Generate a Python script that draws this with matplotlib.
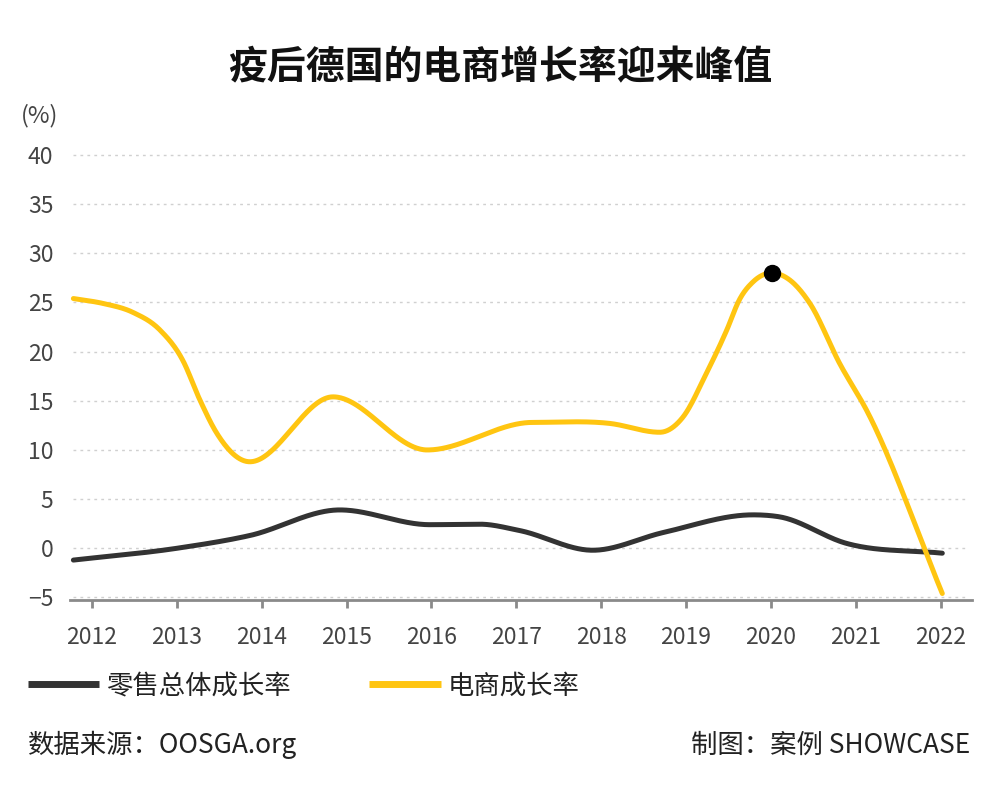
import numpy as np
import matplotlib
matplotlib.use("Agg")
import matplotlib.pyplot as plt

plt.rcParams['font.family'] = ['Noto Sans CJK SC', 'DejaVu Sans']

title = "疫后德国的电商增长率迎来峰值"
years = [2012, 2013, 2014, 2015, 2016, 2017, 2018, 2019, 2020, 2021, 2022]
yticks = [-5, 0, 5, 10, 15, 20, 25, 30, 35, 40]

# points (x in years, y in %)
retail_x = [2011.78, 2013.0, 2013.86, 2014.92, 2015.98, 2016.57, 2017.04, 2017.90, 2018.73, 2019.79, 2020.10, 2020.89, 2022.02]
retail_y = [-1.2, 0.0, 1.3, 3.9, 2.4, 2.45, 1.8, -0.2, 1.6, 3.4, 3.2, 0.5, -0.5]
ecom_x = [2011.78, 2012.13, 2012.48, 2012.80, 2013.07, 2013.27, 2013.47, 2013.86, 2014.84, 2015.95,
          2017.19, 2018.10, 2018.69, 2018.96, 2019.24, 2019.48, 2019.63, 2019.79, 2020.01, 2020.22,
          2020.46, 2020.81, 2021.13, 2022.02]
ecom_y = [25.4, 24.9, 24.0, 22.2, 19.1, 15.1, 11.7, 8.8, 15.4, 10.0,
          12.8, 12.7, 11.8, 13.3, 17.8, 22.2, 25.3, 27.1, 28.0, 27.3,
          24.9, 18.8, 14.0, -4.6]
peak_x, peak_y = 2020.01, 28.0

yellow = "#FFC511"
dark = "#333333"


def smooth(x, y, n=800):
    # cubic hermite through the points, flat at turning points
    x = np.asarray(x, float)
    y = np.asarray(y, float)
    h = np.diff(x)
    d = np.diff(y) / h
    m = np.zeros(len(x))
    m[0], m[-1] = d[0], d[-1]
    for k in range(1, len(x) - 1):
        if d[k - 1] * d[k] > 0:
            m[k] = (d[k - 1] * h[k] + d[k] * h[k - 1]) / (h[k - 1] + h[k])
    xn = np.linspace(x[0], x[-1], n)
    i = np.clip(np.searchsorted(x, xn) - 1, 0, len(x) - 2)
    t = (xn - x[i]) / h[i]
    h00 = 2 * t**3 - 3 * t**2 + 1
    h10 = t**3 - 2 * t**2 + t
    h01 = -2 * t**3 + 3 * t**2
    h11 = t**3 - t**2
    yn = h00 * y[i] + h10 * h[i] * m[i] + h01 * y[i + 1] + h11 * h[i] * m[i + 1]
    return xn, yn


fig = plt.figure(figsize=(10, 8.02), dpi=100)
ax = fig.add_axes([0.070, 0.252, 0.902, 0.567])

for v in yticks:
    ax.axhline(v, color="#d0d0d0", lw=1, ls=(0, (2, 3)), zorder=0, xmin=0.003, xmax=0.995)

xs, ys = smooth(retail_x, retail_y)
ax.plot(xs, ys, color=dark, lw=3.6, solid_capstyle="round", label="零售总体成长率")
xs, ys = smooth(ecom_x, ecom_y)
ax.plot(xs, ys, color=yellow, lw=3.6, solid_capstyle="round", label="电商成长率")
ax.plot(peak_x, peak_y, "o", color="black", ms=11.5, zorder=5)

ax.set_xlim(2011.74, 2022.37)
ax.set_ylim(-5.25, 41)
ax.set_yticks(yticks)
ax.set_xticks(years)
ax.set_xticklabels([str(y) for y in years])
for s in ["top", "right", "left"]:
    ax.spines[s].set_visible(False)
ax.spines["bottom"].set_color("#8a8a8a")
ax.spines["bottom"].set_linewidth(2)
ax.tick_params(axis="x", colors="#8a8a8a", length=6, width=2, pad=13, labelsize=16.5, labelcolor="#444444")
ax.tick_params(axis="y", length=0, pad=12, labelsize=16.5, labelcolor="#444444")

fig.text(0.5, 0.915, title, ha="center", va="center", fontsize=28, fontweight="bold", color="#111111")
fig.text(0.021, 0.856, "(%)", ha="left", va="center", fontsize=17, color="#444444")

leg = fig.legend(loc="center left", bbox_to_anchor=(0.004, 0.145), ncol=2, frameon=False,
                 fontsize=19, handlelength=2.7, handletextpad=0.25, columnspacing=3.0,
                 labelcolor="#222222")
for line in leg.get_lines():
    line.set_linewidth(5)
    line.set_solid_capstyle("butt")

fig.text(0.028, 0.071, "数据来源：OOSGA.org", ha="left", va="center", fontsize=19, color="#222222")
fig.text(0.970, 0.071, "制图：案例 SHOWCASE", ha="right", va="center", fontsize=19, color="#222222")

plt.savefig("out.png", dpi=100)
